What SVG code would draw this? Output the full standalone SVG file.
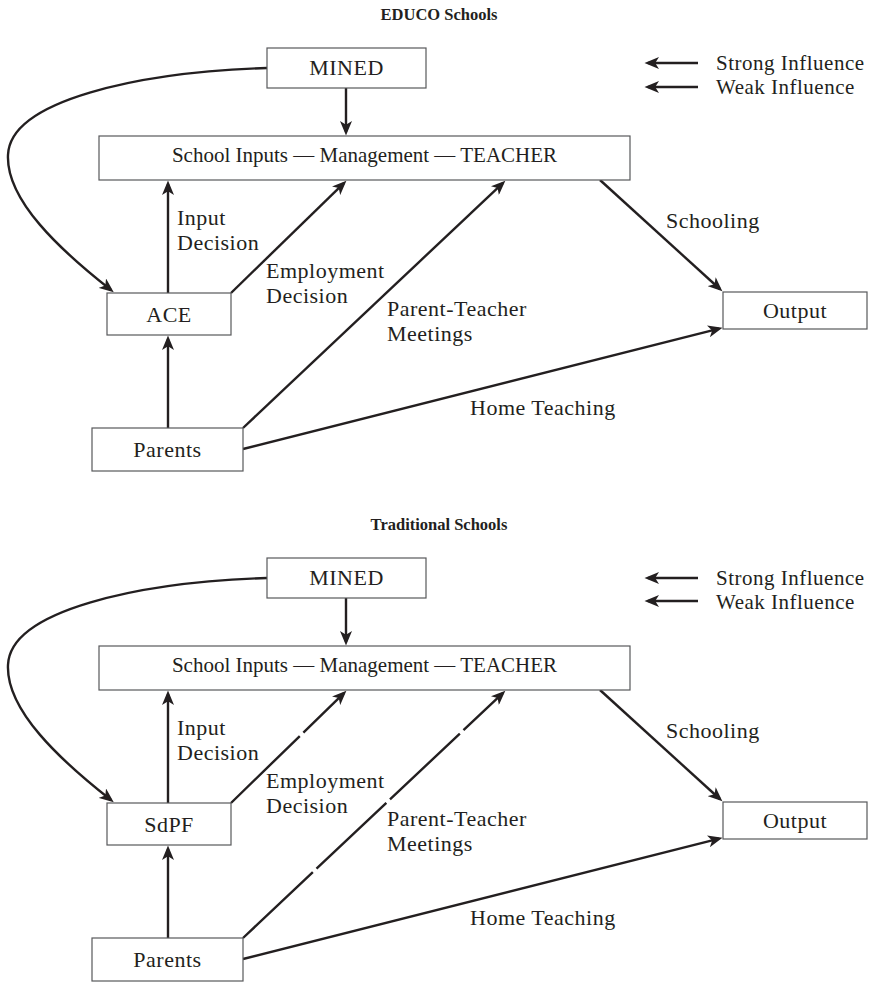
<svg xmlns="http://www.w3.org/2000/svg" width="878" height="983" viewBox="0 0 878 983">
  <style>
    .box { fill: #ffffff; stroke: #58595b; stroke-width: 1.2; }
    .t { font-family: "Liberation Serif", "Times New Roman", serif; font-size: 22px; letter-spacing: 0.5px; fill: #231f20; }
    .mid { text-anchor: middle; }
    .long { font-size: 21px; letter-spacing: 0; }
    .key { font-size: 21px; }
    .title { font-family: "Liberation Serif", "Times New Roman", serif; font-size: 16.5px; font-weight: bold; fill: #231f20; text-anchor: middle; }
    .edge { fill: none; stroke: #231f20; stroke-width: 2.4; marker-end: url(#head); }
    .weak { stroke-dasharray: 96 5; }
  </style>
  <defs>
    <marker id="head" markerUnits="userSpaceOnUse" markerWidth="15" markerHeight="12" viewBox="0 0 15 12" refX="11" refY="6" orient="auto">
      <path d="M0,0 L14.5,6 L0,12 L3.8,6 z" fill="#231f20"/>
    </marker>
  </defs>

  <!-- ===== EDUCO Schools ===== -->
  <text class="title" x="439" y="20">EDUCO Schools</text>

  <g id="educo-legend">
    <line class="edge" x1="698" y1="63" x2="648" y2="63"/>
    <line class="edge" x1="698" y1="87" x2="648" y2="87"/>
    <text class="t key" x="716" y="70">Strong Influence</text>
    <text class="t key" x="716" y="94">Weak Influence</text>
  </g>

  <g id="educo-connectors">
    <path class="edge" d="M267,68 C140,72 10,100 8,155 C6,200 60,250 111,290"/>
    <line class="edge" x1="346" y1="88" x2="346" y2="132"/>
    <line class="edge" x1="168" y1="293" x2="168" y2="184"/>
    <line class="edge" x1="231" y1="293" x2="343.9" y2="183.1"/>
    <line class="edge" x1="243" y1="428" x2="502.8" y2="183.1"/>
    <line class="edge" x1="168" y1="428" x2="168" y2="339"/>
    <line class="edge" x1="243" y1="449" x2="719.1" y2="328.7"/>
    <line class="edge" x1="600" y1="180" x2="719.8" y2="289"/>
    <text class="t" x="177" y="225">Input</text>
    <text class="t" x="177" y="250">Decision</text>
    <text class="t" x="266" y="278">Employment</text>
    <text class="t" x="266" y="303">Decision</text>
    <text class="t" x="387" y="316">Parent-Teacher</text>
    <text class="t" x="387" y="341">Meetings</text>
    <text class="t" x="470" y="415">Home Teaching</text>
    <text class="t" x="666" y="228">Schooling</text>
  </g>

  <g id="educo-mined">
    <rect class="box" x="267" y="48" width="159" height="40"/>
    <text class="t mid" x="346.5" y="75">MINED</text>
  </g>
  <g id="educo-school">
    <rect class="box" x="99" y="136" width="531" height="44"/>
    <text class="t mid long" x="364.5" y="162">School Inputs — Management — TEACHER</text>
  </g>
  <g id="educo-ace">
    <rect class="box" x="107" y="293" width="124" height="42"/>
    <text class="t mid" x="169" y="322">ACE</text>
  </g>
  <g id="educo-parents">
    <rect class="box" x="92" y="428" width="151" height="43"/>
    <text class="t mid" x="167.5" y="457">Parents</text>
  </g>
  <g id="educo-output">
    <rect class="box" x="723" y="292" width="144" height="37"/>
    <text class="t mid" x="795" y="318">Output</text>
  </g>

  <!-- ===== Traditional Schools ===== -->
  <text class="title" x="439" y="530">Traditional Schools</text>

  <g id="trad-legend">
    <line class="edge" x1="698" y1="578" x2="648" y2="578"/>
    <line class="edge" x1="698" y1="601" x2="648" y2="601"/>
    <text class="t key" x="716" y="585">Strong Influence</text>
    <text class="t key" x="716" y="609">Weak Influence</text>
  </g>

  <g id="trad-connectors">
    <path class="edge" d="M267,578 C140,582 10,610 8,665 C6,710 60,760 111,800"/>
    <line class="edge" x1="346" y1="598" x2="346" y2="642"/>
    <line class="edge" x1="168" y1="803" x2="168" y2="694"/>
    <line class="edge weak" x1="231" y1="803" x2="343.9" y2="693.1"/>
    <line class="edge weak" x1="243" y1="938" x2="502.8" y2="693.1"/>
    <line class="edge" x1="168" y1="938" x2="168" y2="849"/>
    <line class="edge" x1="243" y1="959" x2="719.1" y2="838.7"/>
    <line class="edge" x1="600" y1="690" x2="719.8" y2="799"/>
    <text class="t" x="177" y="735">Input</text>
    <text class="t" x="177" y="760">Decision</text>
    <text class="t" x="266" y="788">Employment</text>
    <text class="t" x="266" y="813">Decision</text>
    <text class="t" x="387" y="826">Parent-Teacher</text>
    <text class="t" x="387" y="851">Meetings</text>
    <text class="t" x="470" y="925">Home Teaching</text>
    <text class="t" x="666" y="738">Schooling</text>
  </g>

  <g id="trad-mined">
    <rect class="box" x="267" y="558" width="159" height="40"/>
    <text class="t mid" x="346.5" y="585">MINED</text>
  </g>
  <g id="trad-school">
    <rect class="box" x="99" y="646" width="531" height="44"/>
    <text class="t mid long" x="364.5" y="672">School Inputs — Management — TEACHER</text>
  </g>
  <g id="trad-sdpf">
    <rect class="box" x="107" y="803" width="124" height="42"/>
    <text class="t mid" x="169" y="832">SdPF</text>
  </g>
  <g id="trad-parents">
    <rect class="box" x="92" y="938" width="151" height="43"/>
    <text class="t mid" x="167.5" y="967">Parents</text>
  </g>
  <g id="trad-output">
    <rect class="box" x="723" y="802" width="144" height="37"/>
    <text class="t mid" x="795" y="828">Output</text>
  </g>
</svg>
